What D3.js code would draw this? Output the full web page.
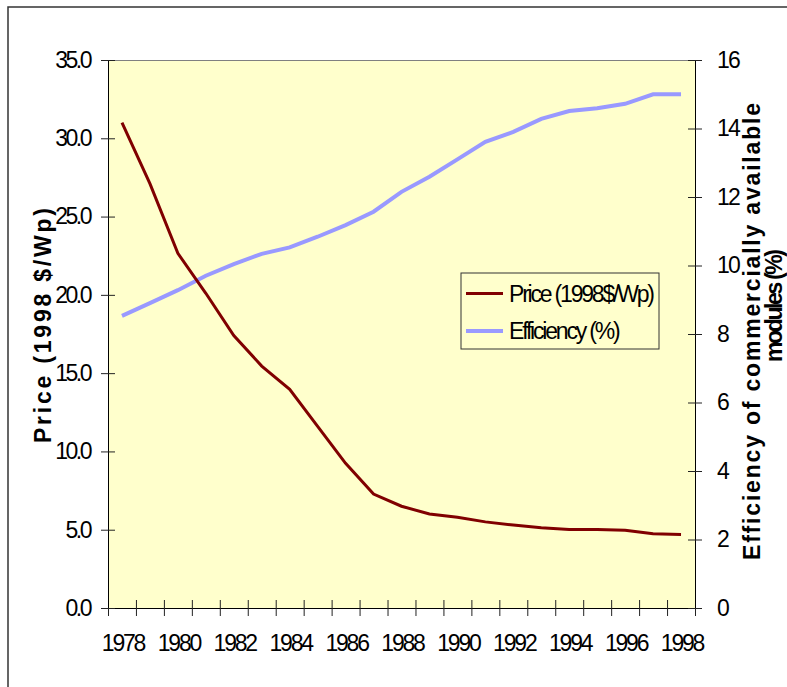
<!DOCTYPE html>
<html>
<head>
  <meta charset="utf-8">
  <script src="https://d3js.org/d3.v7.min.js"></script>
  <style>
    body { margin: 0; background: #fff; }
    text { font-family: "Liberation Sans", Arial, sans-serif; }
  </style>
</head>
<body>
  <div id="chart"></div>
  <script type="text/javascript">
  // data
  var years = [1978, 1979, 1980, 1981, 1982, 1983, 1984, 1985, 1986, 1987, 1988,
               1989, 1990, 1991, 1992, 1993, 1994, 1995, 1996, 1997, 1998];
  var price = [31.0, 27.1, 22.65, 20.1, 17.4, 15.45, 13.97, 11.6, 9.24, 7.28, 6.5,
               6.0, 5.8, 5.5, 5.3, 5.12, 5.02, 5.02, 4.97, 4.75, 4.7];
  var efficiency = [8.53, 8.9, 9.28, 9.7, 10.04, 10.34, 10.53, 10.84, 11.18, 11.57, 12.15,
                    12.59, 13.1, 13.61, 13.9, 14.28, 14.51, 14.59, 14.72, 15.0, 15.0];
  var yearLabels = [1978, 1980, 1982, 1984, 1986, 1988, 1990, 1992, 1994, 1996, 1998];
  var priceTicks = [0, 5, 10, 15, 20, 25, 30, 35];
  var effTicks = [0, 2, 4, 6, 8, 10, 12, 14, 16];
  var seriesNames = ["Price (1998$/Wp)", "Efficiency (%)"];

  (function() {
  var W = 787, H = 687;
  var pl = 108, pr = 695, pt = 60, pb = 608;

  var svg = d3.select("#chart").append("svg")
      .attr("width", W)
      .attr("height", H);

  // outer chart frame
  svg.append("rect")
      .attr("x", 8).attr("y", 7)
      .attr("width", 820).attr("height", 720)
      .attr("fill", "#fff")
      .attr("stroke", "#333")
      .attr("stroke-width", 1.5);

  var x = d3.scaleBand().domain(years).range([pl, pr]).padding(0);
  var xEdge = d3.scaleLinear().domain([0, years.length]).range([pl, pr]);
  var yP = d3.scaleLinear().domain([0, 35]).range([pb, pt]);
  var yE = d3.scaleLinear().domain([0, 16]).range([pb, pt]);

  // plot area
  svg.append("rect")
      .attr("x", pl).attr("y", pt)
      .attr("width", pr - pl).attr("height", pb - pt)
      .attr("fill", "#FFFFCC");
  svg.append("line")
      .attr("x1", pl).attr("x2", pr)
      .attr("y1", pt + 0.5).attr("y2", pt + 0.5)
      .attr("stroke", "#808080");

  var tickFont = function(g, spacing) {
    g.selectAll("text")
      .attr("font-size", 23)
      .attr("letter-spacing", spacing)
      .attr("fill", "#000");
  };

  // x axis: tick marks at band edges, labels at band centres
  var xTicks = svg.append("g")
      .attr("transform", "translate(0," + pb + ")")
      .call(d3.axisBottom(xEdge).tickValues(d3.range(0, years.length + 1)).tickFormat("").tickSize(8));
  xTicks.selectAll(".tick line").attr("y1", -8).attr("y2", 8).attr("stroke", "#222");
  xTicks.select(".domain").attr("stroke", "#000");

  var xLab = svg.append("g")
      .attr("transform", "translate(0," + pb + ")")
      .call(d3.axisBottom(x).tickValues(yearLabels).tickSize(0).tickPadding(27));
  xLab.select(".domain").remove();
  tickFont(xLab, "-2.2px");
  xLab.selectAll("text").attr("dx", "1px");

  // left axis
  var yl = svg.append("g")
      .attr("transform", "translate(" + pl + ",0)")
      .call(d3.axisLeft(yP).tickValues(priceTicks).tickFormat(d3.format(".1f")).tickSize(7).tickPadding(11));
  yl.selectAll(".tick line").attr("x1", -7).attr("x2", 7).attr("stroke", "#222");
  yl.select(".domain").attr("stroke", "#000");
  tickFont(yl, "-2.5px");

  // right axis
  var yr = svg.append("g")
      .attr("transform", "translate(" + pr + ",0)")
      .call(d3.axisRight(yE).tickValues(effTicks).tickSize(7).tickPadding(15));
  yr.selectAll(".tick line").attr("x1", -7).attr("x2", 7).attr("stroke", "#222");
  yr.select(".domain").attr("stroke", "#000");
  tickFont(yr, "-1.8px");

  // lines
  var cx = function(i) { return x(years[i]) + x.bandwidth() / 2; };
  var priceLine = d3.line().x(function(d, i) { return cx(i); }).y(function(d) { return yP(d); });
  var effLine = d3.line().x(function(d, i) { return cx(i); }).y(function(d) { return yE(d); });

  svg.append("path")
      .attr("d", effLine(efficiency))
      .attr("fill", "none")
      .attr("stroke", "#9999FF")
      .attr("stroke-width", 4);
  svg.append("path")
      .attr("d", priceLine(price))
      .attr("fill", "none")
      .attr("stroke", "#800000")
      .attr("stroke-width", 3);

  // axis titles
  svg.append("text")
      .attr("transform", "translate(51,325.5) rotate(-90)")
      .attr("text-anchor", "middle")
      .attr("font-size", 23)
      .attr("font-weight", "bold")
      .attr("textLength", 235)
      .attr("lengthAdjust", "spacing")
      .text("Price (1998 $/Wp)");

  svg.append("text")
      .attr("transform", "translate(760,331.5) rotate(-90)")
      .attr("text-anchor", "middle")
      .attr("font-size", 23)
      .attr("font-weight", "bold")
      .attr("textLength", 457)
      .attr("lengthAdjust", "spacing")
      .text("Efficiency of commercially available");
  svg.append("text")
      .attr("transform", "translate(782,305.5) rotate(-90)")
      .attr("text-anchor", "middle")
      .attr("font-size", 23)
      .attr("font-weight", "bold")
      .attr("textLength", 113)
      .attr("lengthAdjust", "spacing")
      .text("modules (%)");

  // legend
  var lg = svg.append("g").attr("transform", "translate(461,273)");
  lg.append("rect")
      .attr("width", 198).attr("height", 76)
      .attr("fill", "#FFFFCC")
      .attr("stroke", "#333")
      .attr("stroke-width", 1);
  var legColors = ["#800000", "#9999FF"];
  var legWidths = [3, 4];
  seriesNames.forEach(function(name, i) {
    var yy = 20.5 + i * 37.5;
    lg.append("line")
        .attr("x1", 5).attr("x2", 42)
        .attr("y1", yy).attr("y2", yy)
        .attr("stroke", legColors[i])
        .attr("stroke-width", legWidths[i]);
    lg.append("text")
        .attr("x", 48).attr("y", yy)
        .attr("dy", "0.35em")
        .attr("font-size", 23)
        .attr("letter-spacing", "-2.2px")
        .text(name);
  });
  })();
  </script>
</body>
</html>
